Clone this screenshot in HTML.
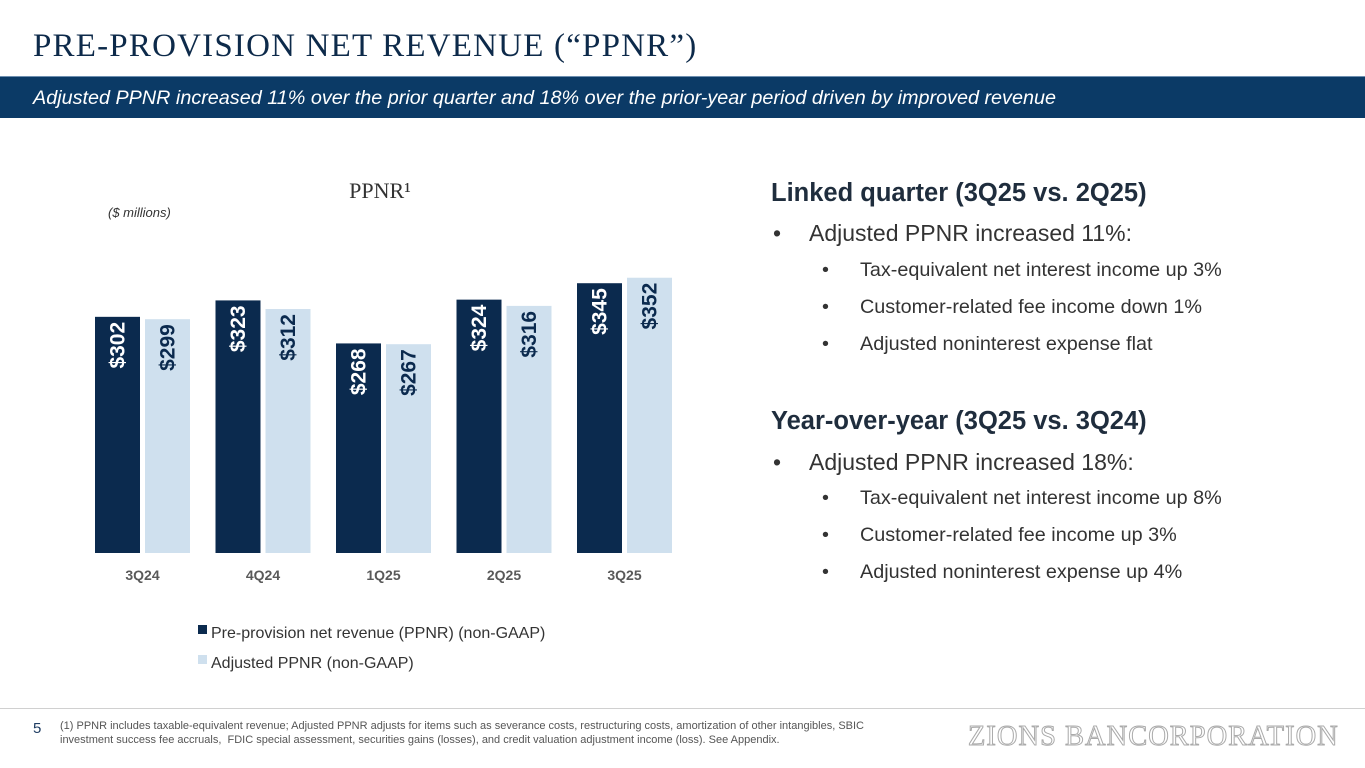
<!DOCTYPE html>
<html><head><meta charset="utf-8"><style>
body{margin:0;width:1365px;height:768px;background:#fff;position:relative;overflow:hidden;font-family:"Liberation Sans",sans-serif}
.abs{position:absolute}
#title{left:33px;top:28px;font-family:"Liberation Serif",serif;font-size:33px;color:#0d2a4a;letter-spacing:1.2px}
#band{left:0;top:76px;width:1365px;height:41px;background:#0b3a66;border-top:1px solid #6e8fb0}
#band span{position:absolute;left:33px;top:10px;color:#fff;font-style:italic;font-size:19.8px}
.h{font-size:25.5px;font-weight:bold;color:#1f2d3d}
.b1{font-size:23px;color:#333}
.b2{font-size:19.8px;color:#333}
</style></head><body>
<div id="title" class="abs">PRE-PROVISION NET REVENUE (“PPNR”)</div>
<div id="band" class="abs"><span>Adjusted PPNR increased 11% over the prior quarter and 18% over the prior-year period driven by improved revenue</span></div>

<svg class="abs" style="left:0;top:0" width="700" height="690">
<text x="380" y="198" text-anchor="middle" font-family="Liberation Serif,serif" font-size="22" fill="#333">PPNR¹</text>
<text x="108" y="217" font-size="13" font-style="italic" fill="#333">($ millions)</text>
<g id="bars"></g>
<rect x="198" y="625" width="9" height="9" fill="#0b2a4e"/>
<text x="211" y="638" font-size="16" fill="#333">Pre-provision net revenue (PPNR) (non-GAAP)</text>
<rect x="198" y="655" width="9" height="9" fill="#cfe0ee"/>
<text x="211" y="668" font-size="16" fill="#333">Adjusted PPNR (non-GAAP)</text>
</svg>

<div class="abs h" style="left:771px;top:179px">Linked quarter (3Q25 vs. 2Q25)</div>
<div class="abs b1" style="left:773px;top:220px">•<span style="position:absolute;left:36px;white-space:nowrap">Adjusted PPNR increased 11%:</span></div>
<div class="abs b2" style="left:822px;top:259px;white-space:nowrap">•<span style="position:absolute;left:38px">Tax-equivalent net interest income up 3%</span></div>
<div class="abs b2" style="left:822px;top:296px;white-space:nowrap">•<span style="position:absolute;left:38px">Customer-related fee income down 1%</span></div>
<div class="abs b2" style="left:822px;top:333px;white-space:nowrap">•<span style="position:absolute;left:38px">Adjusted noninterest expense flat</span></div>
<div class="abs h" style="left:771px;top:407px">Year-over-year (3Q25 vs. 3Q24)</div>
<div class="abs b1" style="left:773px;top:449px">•<span style="position:absolute;left:36px;white-space:nowrap">Adjusted PPNR increased 18%:</span></div>
<div class="abs b2" style="left:822px;top:487px;white-space:nowrap">•<span style="position:absolute;left:38px">Tax-equivalent net interest income up 8%</span></div>
<div class="abs b2" style="left:822px;top:524px;white-space:nowrap">•<span style="position:absolute;left:38px">Customer-related fee income up 3%</span></div>
<div class="abs b2" style="left:822px;top:561px;white-space:nowrap">•<span style="position:absolute;left:38px">Adjusted noninterest expense up 4%</span></div>

<div class="abs" style="left:0;top:708px;width:1365px;height:1px;background:#d0d0d0"></div>
<div class="abs" style="left:33px;top:720px;font-size:15px;color:#1f3d63">5</div>
<div class="abs" style="left:60px;top:719px;width:850px;font-size:11px;line-height:14px;color:#555">(1) PPNR includes taxable-equivalent revenue; Adjusted PPNR adjusts for items such as severance costs, restructuring costs, amortization of other intangibles, SBIC<br>investment success fee accruals,&nbsp; FDIC special assessment, securities gains (losses), and credit valuation adjustment income (loss). See Appendix.</div>
<div class="abs" style="left:968px;top:721px;font-family:'Liberation Serif',serif;font-size:28.5px;color:#fff;-webkit-text-stroke:1px #aaa;letter-spacing:1px">ZIONS BANCORPORATION</div>

<script>
const categories=["3Q24","4Q24","1Q25","2Q25","3Q25"];
const ppnr=[302,323,268,324,345];
const adjusted=[299,312,267,316,352];
const base=553, scale=0.782, x0=95, step=120.5, bw=45;
const y=v=>base-v*scale;
const g=document.getElementById('bars');
const NS="http://www.w3.org/2000/svg";
function bar(x,v,fill,tc,name){
 const r=document.createElementNS(NS,'rect');
 r.setAttribute('x',x);r.setAttribute('y',y(v));r.setAttribute('width',bw);r.setAttribute('height',base-y(v));r.setAttribute('fill',fill);
 
 
 g.appendChild(r);
 const t=document.createElementNS(NS,'text');
 const cx=x+bw/2+7, ty=y(v)+5;
 t.setAttribute('transform','translate('+cx+','+ty+') rotate(-90)');
 t.setAttribute('text-anchor','end');t.setAttribute('font-size','21');t.setAttribute('font-weight','bold');t.setAttribute('fill',tc);
 t.textContent='$'+v;
 
 
 g.appendChild(t);
}
categories.forEach((c,i)=>{
 const x=x0+i*step;
 bar(x,ppnr[i],'#0b2a4e','#fff','bar-ppnr-'+c);
 bar(x+bw+5,adjusted[i],'#cfe0ee','#0b2a4e','bar-adjusted-'+c);
 const t=document.createElementNS(NS,'text');
 t.setAttribute('x',x+bw+2.5);t.setAttribute('y',580);t.setAttribute('text-anchor','middle');t.setAttribute('font-size','14');t.setAttribute('font-weight','bold');t.setAttribute('fill','#595959');
 t.textContent=c;
 
 
 g.appendChild(t);
});
</script>
</body></html>
